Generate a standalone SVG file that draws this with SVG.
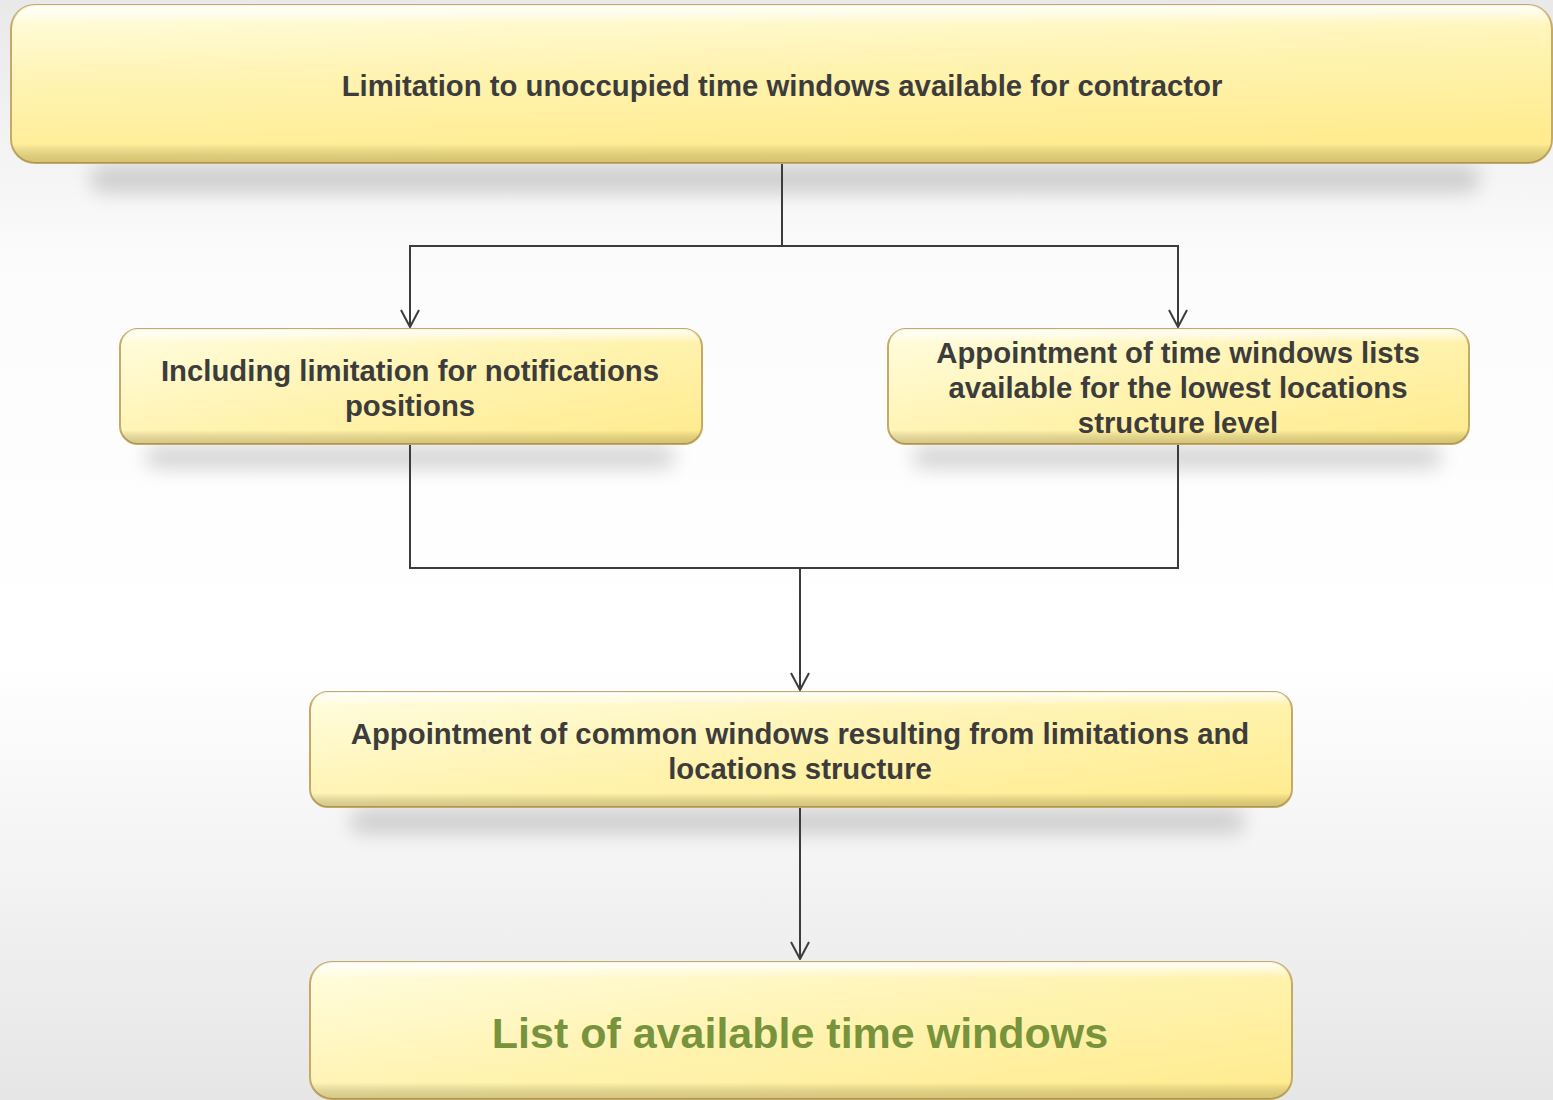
<svg xmlns="http://www.w3.org/2000/svg" width="1553" height="1100" viewBox="0 0 1553 1100">
<defs>
<linearGradient id="bg" x1="0" y1="0" x2="0" y2="1">
<stop offset="0" stop-color="#e9e9e9"/>
<stop offset="0.25" stop-color="#fcfcfc"/>
<stop offset="0.6" stop-color="#ffffff"/>
<stop offset="1" stop-color="#e6e6e6"/>
</linearGradient>
<linearGradient id="fill" x1="0" y1="0" x2="1" y2="1">
<stop offset="0" stop-color="#fffde0"/>
<stop offset="0.5" stop-color="#fff3b0"/>
<stop offset="1" stop-color="#ffeb8c"/>
</linearGradient>
<linearGradient id="fillTop" x1="0" y1="0" x2="0.25" y2="1">
<stop offset="0" stop-color="#fffde0"/>
<stop offset="0.5" stop-color="#fff3b0"/>
<stop offset="1" stop-color="#ffec90"/>
</linearGradient>
<linearGradient id="hl" x1="0" y1="0" x2="0" y2="1">
<stop offset="0" stop-color="#ffffff" stop-opacity="0.9"/>
<stop offset="0.12" stop-color="#ffffff" stop-opacity="0"/>
<stop offset="0.88" stop-color="#000000" stop-opacity="0"/>
<stop offset="1" stop-color="#7a6420" stop-opacity="0.3"/>
</linearGradient>
<filter id="blur" x="-20%" y="-150%" width="140%" height="400%">
<feGaussianBlur stdDeviation="10"/>
</filter>
<marker id="arr" viewBox="0 0 20 20" refX="19" refY="10" markerWidth="20" markerHeight="20" markerUnits="userSpaceOnUse" orient="auto">
<path d="M2,1 L19,10 L2,19" fill="none" stroke="#3c3c3c" stroke-width="2"/>
</marker>
<style>
.box{stroke:#c4aa66;stroke-width:2}
.shadow{fill:#000;opacity:0.17}
.t{font-family:"Liberation Sans",Arial,sans-serif;font-weight:bold;fill:#3c3c3c;text-anchor:middle;font-size:29.3px}
.conn{fill:none;stroke:#3c3c3c;stroke-width:2}
</style>
</defs>
<rect x="0" y="0" width="1553" height="1100" fill="url(#bg)"/>

<g id="shadows">
<rect class="shadow" x="90" y="166" width="1390" height="26" rx="13" filter="url(#blur)"/>
<rect class="shadow" x="145" y="446" width="530" height="22" rx="11" filter="url(#blur)"/>
<rect class="shadow" x="912" y="446" width="530" height="22" rx="11" filter="url(#blur)"/>
<rect class="shadow" x="350" y="809" width="895" height="24" rx="12" filter="url(#blur)"/>
</g>

<g id="connectors">
<path class="conn" d="M782,164 V246 H410 V327" marker-end="url(#arr)"/>
<path class="conn" d="M782,246 H1178 V327" marker-end="url(#arr)"/>
<path class="conn" d="M410,445 V568 H1178 V445"/>
<path class="conn" d="M800,568 V690" marker-end="url(#arr)"/>
<path class="conn" d="M800,808 V959" marker-end="url(#arr)"/>
</g>

<g id="node-top">
<rect class="box" x="11" y="5" width="1541" height="158" rx="24" fill="url(#fillTop)"/>
<rect x="11" y="5" width="1541" height="158" rx="24" fill="url(#hl)"/>
<text class="t" x="782" y="96">Limitation to unoccupied time windows available for contractor</text>
</g>

<g id="node-left">
<rect class="box" x="120" y="329" width="582" height="115" rx="18" fill="url(#fill)"/>
<rect x="120" y="329" width="582" height="115" rx="18" fill="url(#hl)"/>
<text class="t" x="410" y="381">Including limitation for notifications</text>
<text class="t" x="410" y="416">positions</text>
</g>

<g id="node-right">
<rect class="box" x="888" y="329" width="581" height="115" rx="18" fill="url(#fill)"/>
<rect x="888" y="329" width="581" height="115" rx="18" fill="url(#hl)"/>
<text class="t" x="1178" y="363">Appointment of time windows lists</text>
<text class="t" x="1178" y="398">available for the lowest locations</text>
<text class="t" x="1178" y="433">structure level</text>
</g>

<g id="node-mid">
<rect class="box" x="310" y="692" width="982" height="115" rx="18" fill="url(#fill)"/>
<rect x="310" y="692" width="982" height="115" rx="18" fill="url(#hl)"/>
<text class="t" x="800" y="744">Appointment of common windows resulting from limitations and</text>
<text class="t" x="800" y="779">locations structure</text>
</g>

<g id="node-bottom">
<rect class="box" x="310" y="962" width="982" height="137" rx="22" fill="url(#fill)"/>
<rect x="310" y="962" width="982" height="137" rx="22" fill="url(#hl)"/>
<text class="t" x="800" y="1048" style="fill:#77933c;font-size:43px">List of available time windows</text>
</g>
</svg>
